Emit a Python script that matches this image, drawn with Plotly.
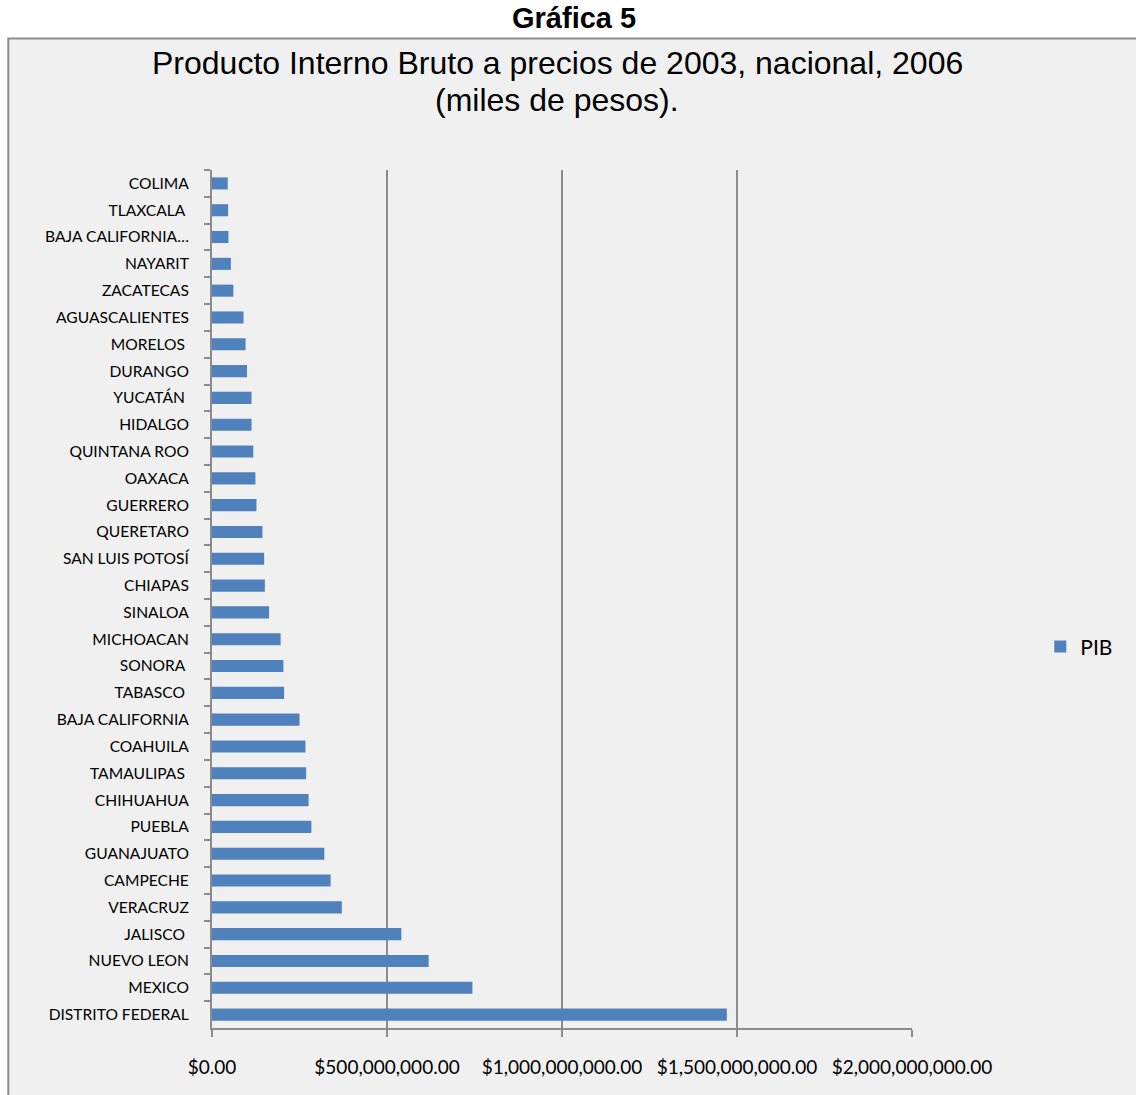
import plotly.graph_objects as go

states = ["COLIMA", "TLAXCALA\u00a0", "BAJA CALIFORNIA…", "NAYARIT", "ZACATECAS",
          "AGUASCALIENTES", "MORELOS\u00a0", "DURANGO", "YUCATÁN\u00a0", "HIDALGO",
          "QUINTANA ROO", "OAXACA", "GUERRERO", "QUERETARO", "SAN LUIS POTOSÍ",
          "CHIAPAS", "SINALOA", "MICHOACAN", "SONORA\u00a0", "TABASCO\u00a0",
          "BAJA CALIFORNIA", "COAHUILA", "TAMAULIPAS\u00a0", "CHIHUAHUA", "PUEBLA",
          "GUANAJUATO", "CAMPECHE", "VERACRUZ", "JALISCO\u00a0", "NUEVO LEON",
          "MEXICO", "DISTRITO FEDERAL"]
pib = [45e6, 46e6, 47e6, 54e6, 61e6,
       90e6, 96e6, 100e6, 113e6, 113e6,
       118e6, 124e6, 127e6, 144e6, 149e6,
       151e6, 163e6, 196e6, 204e6, 206e6,
       250e6, 267e6, 269e6, 276e6, 284e6,
       321e6, 339e6, 371e6, 541e6, 619e6,
       744e6, 1471e6]
x_ticks = [0, 500e6, 1000e6, 1500e6, 2000e6]

W, H = 1136, 1095
L, R, T, B = 211.7, 224.3, 169.6, 66.6
pw, ph = W - L - R, H - T - B

def px(x):
    return (x - L) / pw

def py(y):
    return (H - B - y) / ph

fig = go.Figure(go.Bar(
    x=pib, y=states, orientation="h", name="PIB",
    marker=dict(color="#4f81bd", line=dict(width=0)),
    width=0.45, showlegend=True,
))

grey = "#8c8c8c"
lab = "Lato, Open Sans, sans-serif"

fig.update_layout(
    width=W, height=H,
    margin=dict(l=L, r=R, t=T, b=B, autoexpand=False),
    paper_bgcolor="white", plot_bgcolor="#f0f0f0",
    showlegend=True,
    legend=dict(x=px(1040), y=py(647), xanchor="left", yanchor="middle",
                font=dict(family=lab, size=21, color="#000000"),
                bgcolor="rgba(0,0,0,0)", itemwidth=30),
    xaxis=dict(range=[0, 2e9], tickvals=x_ticks, tickformat="$,.2f",
               showgrid=True, gridcolor=grey, gridwidth=2, zeroline=False,
               showline=True, linecolor=grey, linewidth=2,
               ticks="outside", ticklen=7, tickcolor=grey, tickwidth=2,
               tickfont=dict(family=lab, size=19, color="#000000"),
               ticklabelstandoff=14, fixedrange=True),
    yaxis=dict(autorange="reversed", type="category",
               showline=True, linecolor=grey, linewidth=2, showgrid=False,
               ticks="outside", ticklen=6, tickcolor=grey, tickwidth=2,
               tickson="boundaries",
               tickfont=dict(family=lab, size=15.6, color="#000000"),
               ticklabelstandoff=18, fixedrange=True),
    shapes=[dict(type="rect", xref="paper", yref="paper",
                 x0=px(8), x1=px(1145), y0=py(1105), y1=py(38),
                 fillcolor="#f0f0f0", line=dict(color=grey, width=2),
                 layer="below")],
    annotations=[
        dict(text="<b>Gráfica 5</b>", xref="paper", yref="paper",
             x=px(574), y=py(17), xanchor="center", yanchor="middle", borderpad=0,
             showarrow=False, font=dict(family="Liberation Sans, Arial", size=29, color="black")),
        dict(text="Producto Interno Bruto a precios de 2003, nacional, 2006",
             xref="paper", yref="paper", x=px(557), y=py(62), xanchor="center", yanchor="middle",
             showarrow=False, font=dict(family="Liberation Sans, Arial", size=32, color="black")),
        dict(text="(miles de pesos).",
             xref="paper", yref="paper", x=px(557), y=py(100), xanchor="center", yanchor="middle",
             showarrow=False, font=dict(family="Liberation Sans, Arial", size=32, color="black")),
    ],
)

fig.write_html("out.html", config={"displayModeBar": False},
               post_script="document.body.style.margin='0';")
